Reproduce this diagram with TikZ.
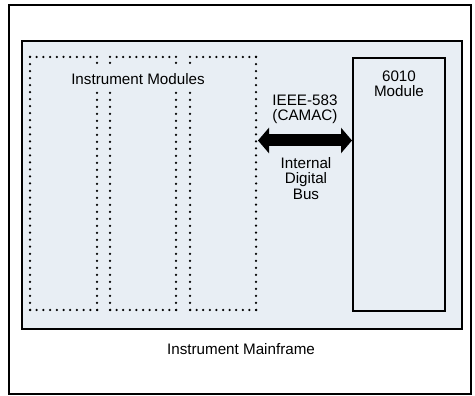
\documentclass[tikz,border=0pt]{standalone}
\usepackage{fontspec}
\setmainfont{Liberation Sans}
\usetikzlibrary{calc,arrows.meta}
\definecolor{panel}{HTML}{E8EEF4}
\newcommand{\dotrow}[3]{\foreach \k in {0,...,#3}{\fill ($#1!\k/#3!#2$) circle[radius=1.25pt];}}
\newcommand{\dotone}[1]{\fill #1 circle[radius=1.25pt];}
\begin{document}
\begin{tikzpicture}[x=1pt,y=-1pt,
  txt/.style={font=\fontsize{15.2}{16}\selectfont, inner sep=0pt, anchor=base},
  frame/.style={draw=black, line width=1.6pt}]
\useasboundingbox (0,0) rectangle (475,396);
\fill[white] (0,0) rectangle (475,396);
% mainframe
\node[frame, anchor=north west, inner sep=0pt, minimum width=462pt, minimum height=389pt] (mainframe) at (8,4) {};
\node[frame, fill=panel, anchor=north west, inner sep=0pt, minimum width=440pt, minimum height=288pt] (panel) at (21,40) {};
\node[frame, fill=panel, anchor=north west, inner sep=0pt, minimum width=92pt, minimum height=253pt] (m6010) at (352,57) {};
% instrument modules (dotted)
% module 1
\dotrow{(30,57)}{(30,310)}{36}
\dotrow{(30,57)}{(97,57)}{10}
\dotrow{(30,310)}{(97,310)}{10}
\dotone{(97,63)}
\dotrow{(97,93)}{(97,310)}{31}
% module 2
\dotrow{(110,57)}{(176,57)}{10}
\dotrow{(110,310)}{(176,310)}{10}
\dotone{(110,63)}
\dotrow{(110,93)}{(110,310)}{31}
\dotone{(176,63)}
\dotrow{(176,93)}{(176,310)}{31}
% module 3
\dotrow{(190,57)}{(256,57)}{10}
\dotrow{(190,310)}{(256,310)}{10}
\dotone{(190,63)}
\dotrow{(190,93)}{(190,310)}{31}
\dotrow{(256,57)}{(256,310)}{36}
% labels
\node[txt] (modl) at (138,85) {Instrument Modules};
\node[txt] (l6010a) at (399,81.5) {6010};
\node[txt] (l6010b) at (399,97) {Module};
\node[txt] (ieee) at (305,105.5) {IEEE-583};
\node[txt] (camac) at (305,120.5) {(CAMAC)};
\node[txt] (int) at (306,168) {Internal};
\node[txt] (dig) at (306,184) {Digital};
\node[txt] (bus) at (306,200) {Bus};
\node[txt] (mf) at (241,354) {Instrument Mainframe};
% bus arrow
\coordinate (busL) at (258,140.5);
\draw[line width=12pt, {Triangle[width=25pt,length=11pt]}-{Triangle[width=25pt,length=11pt]}] (busL) -- (busL -| m6010.west);
\end{tikzpicture}
\end{document}
